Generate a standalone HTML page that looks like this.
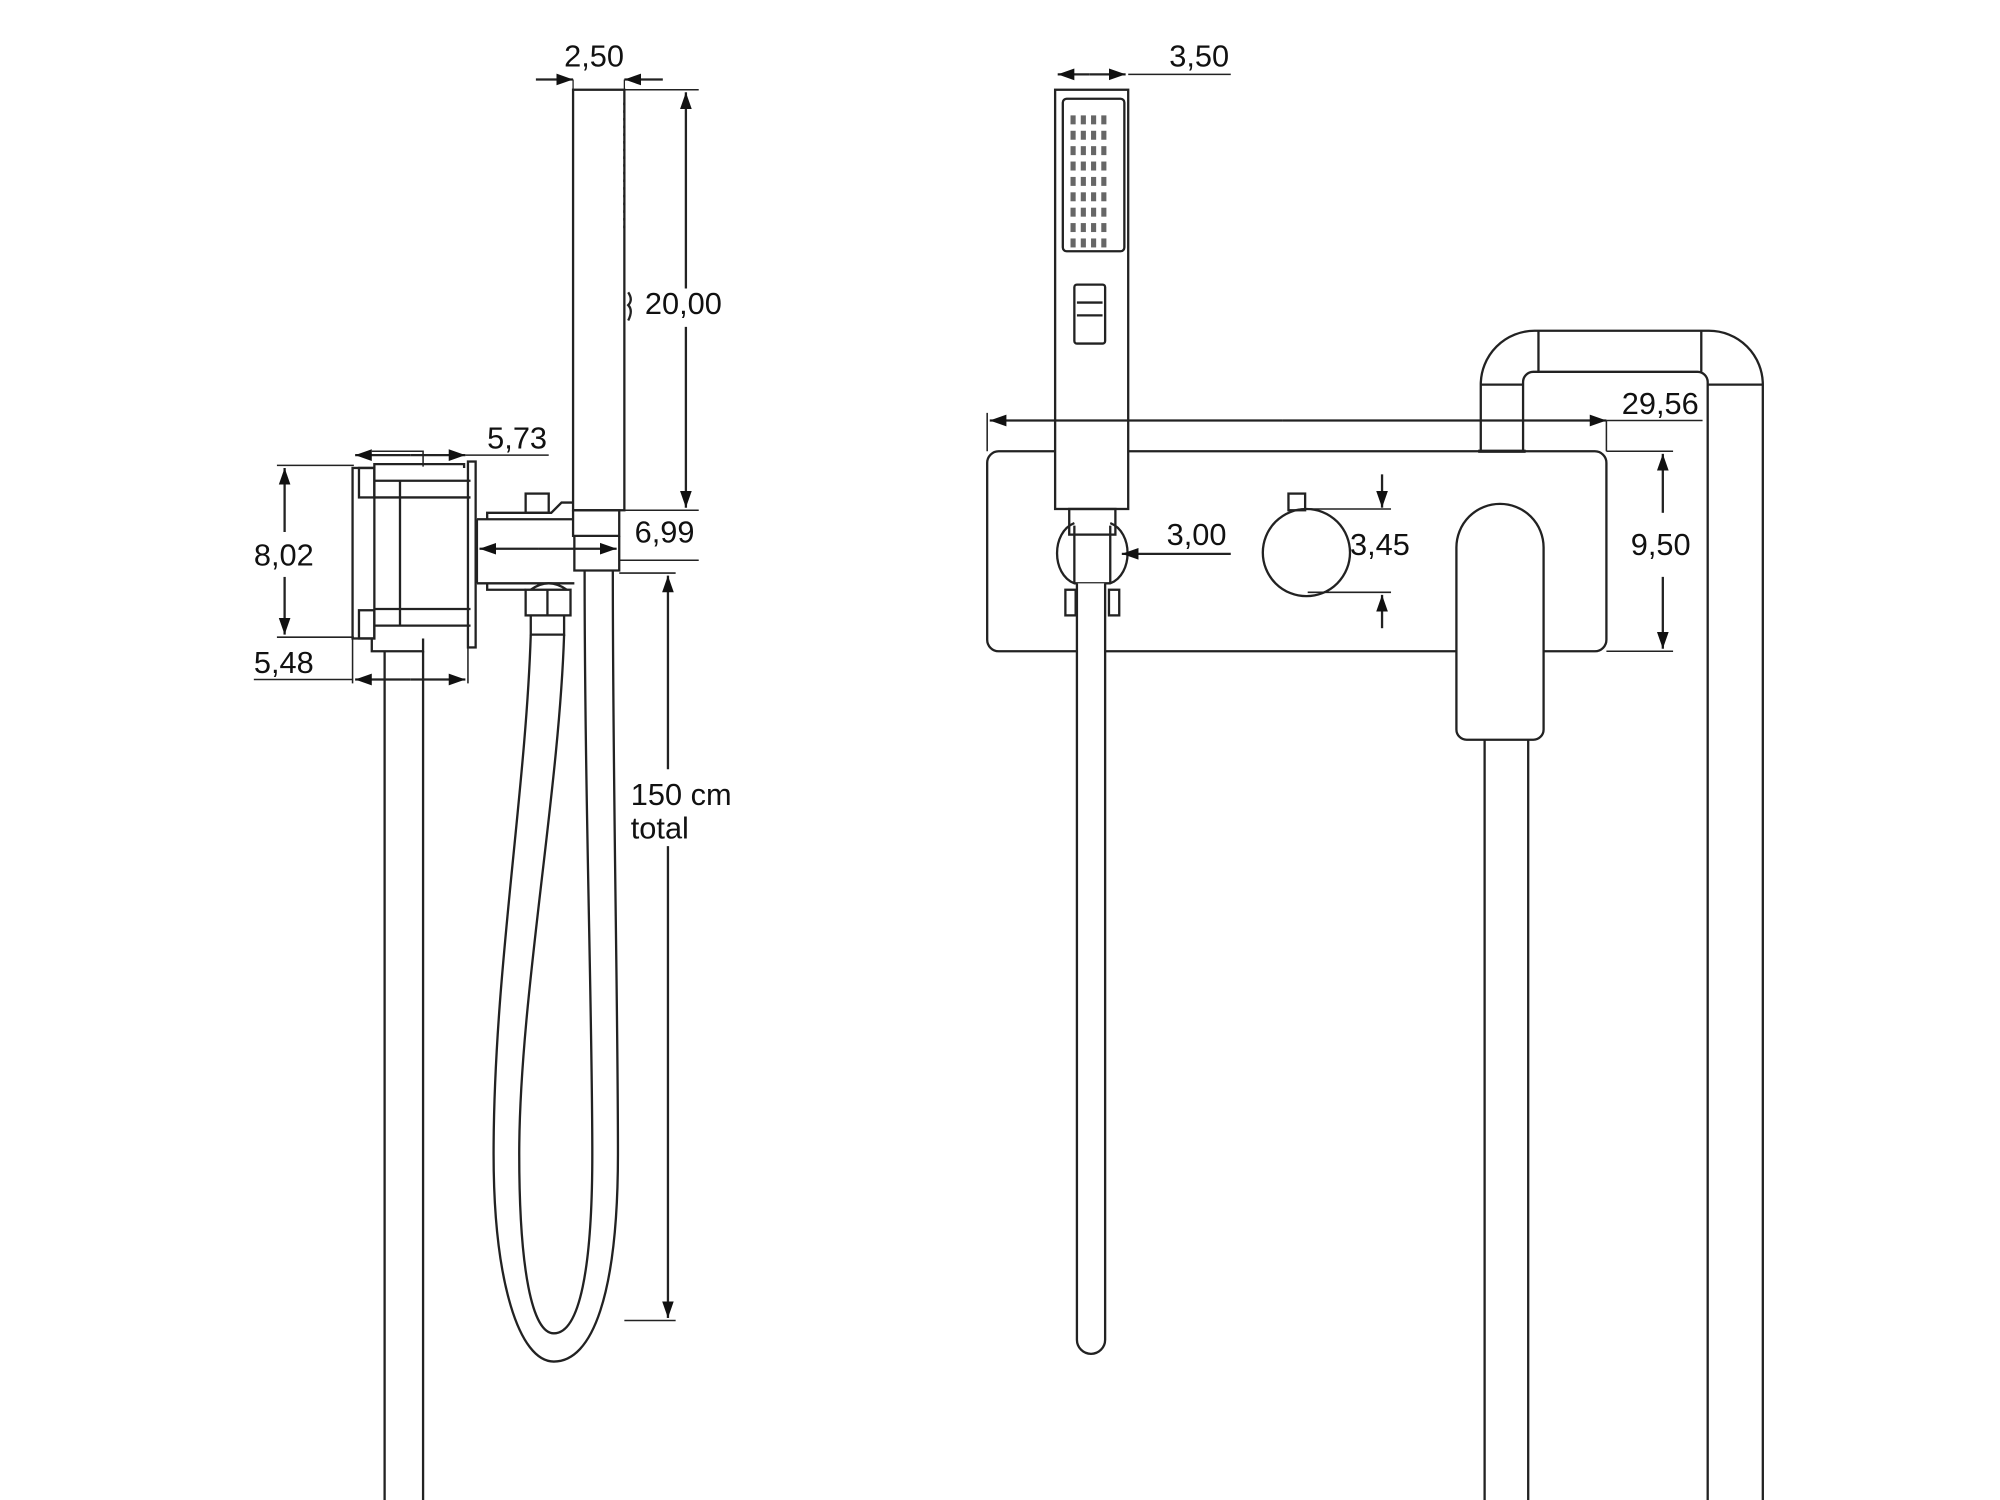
<!DOCTYPE html>
<html><head><meta charset="utf-8"><style>
html,body{margin:0;padding:0;background:#fff;width:2000px;height:1500px;overflow:hidden}
svg{display:block}
text{font-family:"Liberation Sans","DejaVu Sans",sans-serif;font-size:24px;fill:#111}
</style></head><body>
<svg width="2000" height="1500" viewBox="0 0 1560 1170" xmlns="http://www.w3.org/2000/svg">
<defs>
<marker id="a" viewBox="0 0 10 10" refX="10" refY="5" markerWidth="13" markerHeight="13" orient="auto-start-reverse" markerUnits="userSpaceOnUse"><path d="M0,1.5 L10,5 L0,8.5z" fill="#111"/></marker>
</defs>
<g fill="none" stroke="#222" stroke-width="1.8">
<rect x="447" y="70" width="40" height="328"/>
<path d="M487,80 v100" stroke-dasharray="2,4"/>
<path d="M490,228 q4,6 0,10 q4,4 0,12"/>
<path d="M447,398 h36 v20 h-36 v-20"/>
<path d="M448,418 v27 h35 v-27"/>
<path d="M418,62 h29" marker-end="url(#a)"/>
<path d="M517,62 h-30" marker-end="url(#a)"/>
<path d="M487,62 v8 M447,62 v8" stroke-width="1"/>
<path d="M487,70 h58 M487,398 h58" stroke-width="1.2"/>
<path d="M535,225 V72" marker-end="url(#a)"/>
<path d="M535,255 V396" marker-end="url(#a)"/>
<path d="M372,405 h75 M372,455 h76"/>
<path d="M372,405 v50"/>
<path d="M380,405 v-5 h50 l8,-8 h9"/>
<rect x="410" y="385" width="18" height="15"/>
<path d="M380,455 v5 h30"/>
<path d="M483,437 h62" stroke-width="1.2"/>
<path d="M420,428 H374" marker-end="url(#a)"/>
<path d="M420,428 H481" marker-end="url(#a)"/>
<rect x="410" y="460" width="35" height="20"/>
<path d="M427,460 v20"/>
<path d="M414,460 q14,-10 28,0"/>
<path d="M414,480 v15 h26 v-15"/>
<path d="M414,495 C410,620 385,760 385,900 C385,1000 405,1062 432,1062 C462,1062 482,1010 482,900 C482,780 478,620 478,445"/>
<path d="M440,495 C436,620 405,780 405,900 C405,990 415,1040 432,1040 C452,1040 462,990 462,900 C462,790 456,620 456,445"/>
<path d="M483,447 h44 M487,1030 h40" stroke-width="1.2"/>
<path d="M521,600 V449" marker-end="url(#a)"/>
<path d="M521,660 V1028" marker-end="url(#a)"/>
<rect x="275" y="365" width="17" height="133"/>
<rect x="280" y="365" width="12" height="23"/>
<rect x="280" y="476" width="12" height="22"/>
<path d="M292,375 h75 M292,388 h75 M292,475 h75 M292,488 h75"/>
<path d="M312,375 v113"/>
<path d="M292,365 v-3 h70 v3"/>
<rect x="365" y="360" width="6" height="145"/>
<path d="M290,498 v10 h40 v-10"/>
<path d="M300,508 V1175 M330,508 V1175"/>
<path d="M290,352 h40 v12" stroke-width="1.2"/>
<path d="M320,355 H277" marker-end="url(#a)"/>
<path d="M320,355 H363" marker-end="url(#a)"/>
<path d="M363,355 h65" stroke-width="1.2"/>
<path d="M216,363 h60 M216,497 h60" stroke-width="1.2"/>
<path d="M222,415 V365" marker-end="url(#a)"/>
<path d="M222,450 V495" marker-end="url(#a)"/>
<path d="M198,530 h77" stroke-width="1.2"/>
<path d="M320,530 H277" marker-end="url(#a)"/>
<path d="M320,530 H363" marker-end="url(#a)"/>
<path d="M275,498 v35 M365,505 v28" stroke-width="1.2"/>

<rect x="770" y="352" width="483" height="156" rx="9"/>
<rect x="823" y="70" width="57" height="327" fill="#fff"/>
<rect x="829" y="77" width="48" height="119" rx="3"/>
<rect x="838" y="222" width="24" height="46" rx="2"/>
<path d="M840,236 h20 M840,246 h20"/>
<rect x="834" y="397" width="36" height="20"/>
<path d="M838,408 C820,415 820,448 838,455 L866,455 C884,448 884,415 866,408"/>
<path d="M838,410 v45 M866,410 v45"/>
<rect x="831" y="460" width="8" height="20"/>
<rect x="865" y="460" width="8" height="20"/>
<path d="M840,455 V1045 a11,11 0 0 0 22,0 V455" fill="#fff"/>
<path d="M850,58 H825" marker-end="url(#a)"/>
<path d="M850,58 H878" marker-end="url(#a)"/>
<path d="M880,58 h80" stroke-width="1.2"/>
<path d="M960,432 H875" marker-end="url(#a)"/>
<rect x="1005" y="385" width="13" height="13"/>
<circle cx="1019" cy="431" r="34"/>
<path d="M1020,397 h65 M1020,462 h65" stroke-width="1.2"/>
<path d="M1078,370 V396" marker-end="url(#a)"/>
<path d="M1078,490 V464" marker-end="url(#a)"/>
<path d="M1000,328 H772" marker-end="url(#a)"/>
<path d="M1000,328 H1253" marker-end="url(#a)"/>
<path d="M1253,328 h75 M770,322 v30 M1253,328 v24" stroke-width="1.2"/>
<path d="M1253,352 h52 M1253,508 h52" stroke-width="1.2"/>
<path d="M1297,400 V354" marker-end="url(#a)"/>
<path d="M1297,450 V506" marker-end="url(#a)"/>
<path d="M1155,352 V300 a42,42 0 0 1 42,-42 H1333 a42,42 0 0 1 42,42 V1175"/>
<path d="M1188,352 V298 a8,8 0 0 1 8,-8 H1324 a8,8 0 0 1 8,8 V1175"/>
<path d="M1200,258 v32 M1327,258 v32 M1155,300 h33 M1332,300 h43"/>
<path d="M1153,352 h37" stroke-width="2.5"/>
<path d="M1136,427 a34,34 0 0 1 68,0 V569 a8,8 0 0 1 -8,8 H1144 a8,8 0 0 1 -8,-8 Z" fill="#fff"/>
<path d="M1158,577 V1175 M1192,577 V1175"/>
</g>
<g fill="#666">
<g id="row">
<rect x="835" y="90" width="4" height="7"/><rect x="843" y="90" width="4" height="7"/><rect x="851" y="90" width="4" height="7"/><rect x="859" y="90" width="4" height="7"/>
</g>
<use href="#row" y="12"/><use href="#row" y="24"/><use href="#row" y="36"/><use href="#row" y="48"/><use href="#row" y="60"/><use href="#row" y="72"/><use href="#row" y="84"/><use href="#row" y="96"/>
</g>
<text x="440" y="52">2,50</text>
<text x="503" y="245">20,00</text>
<text x="380" y="350">5,73</text>
<text x="495" y="423">6,99</text>
<text x="198" y="441">8,02</text>
<text x="198" y="525">5,48</text>
<text x="492" y="628">150 cm</text>
<text x="492" y="654">total</text>
<text x="912" y="52">3,50</text>
<text x="910" y="425">3,00</text>
<text x="1053" y="433">3,45</text>
<text x="1265" y="323">29,56</text>
<text x="1272" y="433">9,50</text>
</svg>
</body></html>
